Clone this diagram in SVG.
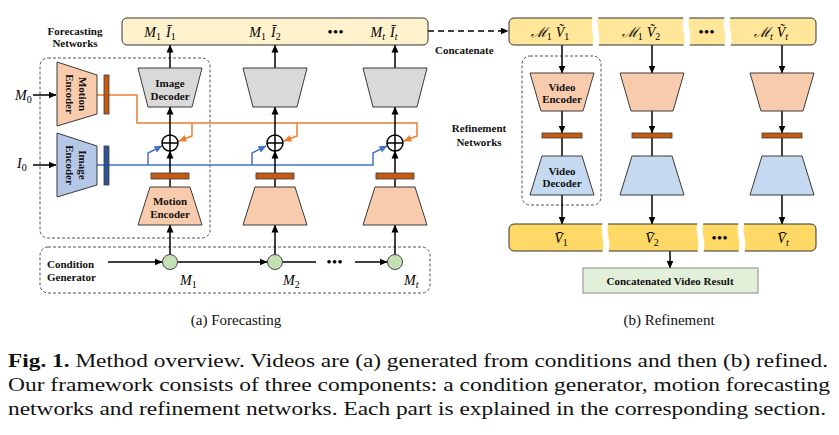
<svg xmlns="http://www.w3.org/2000/svg" width="839" height="435" viewBox="0 0 839 435">
<defs>
<marker id="ab" markerWidth="8" markerHeight="8" refX="7.5" refY="4" orient="auto" markerUnits="userSpaceOnUse"><path d="M0,0.5 L8,4 L0,7.5 z" fill="#000"/></marker>
<marker id="ao" markerWidth="8" markerHeight="8" refX="7.5" refY="4" orient="auto" markerUnits="userSpaceOnUse"><path d="M0,0.5 L8,4 L0,7.5 z" fill="#ED7D31"/></marker>
<marker id="au" markerWidth="8" markerHeight="8" refX="7.5" refY="4" orient="auto" markerUnits="userSpaceOnUse"><path d="M0,0.5 L8,4 L0,7.5 z" fill="#4472C4"/></marker>
</defs>
<style>
.lbl{font-family:"Liberation Serif","DejaVu Serif",serif;font-weight:bold;font-size:11px;fill:#111}
.math{font-family:"Liberation Serif","DejaVu Serif",serif;font-style:italic;font-size:14px;fill:#000}
.sub{font-size:10px;font-style:normal}
.subi{font-size:10px}
.dots{font-family:"Liberation Serif",serif;font-size:13px;font-weight:bold;letter-spacing:1px}
.tr{stroke:#3a3a3a;stroke-width:1}
.dash{fill:none;stroke:#555;stroke-width:1;stroke-dasharray:3,2}
.conn{stroke:#000;stroke-width:1.5;fill:none}
.or{stroke:#ED7D31;stroke-width:1.5;fill:none}
.bl{stroke:#4472C4;stroke-width:1.5;fill:none}
.me{fill:#F8CBAD}
.ie{fill:#B4C7E7}
.gd{fill:#D9D9D9}
.vd{fill:#C5D9F0}
.obar{fill:#C55A11;stroke:#3a3a3a;stroke-width:0.8}
.bbar{fill:#2F5597;stroke:#3a3a3a;stroke-width:0.8}
.gc{fill:#C5E0B4;stroke:#444;stroke-width:1}
.cap{font-family:"Liberation Serif","DejaVu Serif",serif;font-size:19px;fill:#111}
.subcap{font-family:"Liberation Serif","DejaVu Serif",serif;font-size:15px;fill:#111}
.gap{stroke:#fff;stroke-width:6;fill:none}
</style>

<!-- dashed grouping boxes -->
<g id="boxes">
<rect class="dash" x="40" y="58" width="170" height="180" rx="8"/>
<rect class="dash" x="40" y="247" width="390" height="46" rx="8"/>
<rect class="dash" x="522" y="56" width="79" height="149" rx="8"/>
</g>

<!-- connectors -->
<g id="connectors">
<line class="conn" x1="33" y1="95" x2="56" y2="95" marker-end="url(#ab)"/>
<line class="conn" x1="33" y1="165" x2="56" y2="165" marker-end="url(#ab)"/>
<polyline class="or" points="97,95 137,95 137,123 417,123 417,136 404,141" marker-end="url(#ao)"/>
<polyline class="or" points="192,123 192,136 179,141" marker-end="url(#ao)"/>
<polyline class="or" points="297,123 297,136 284,141" marker-end="url(#ao)"/>
<polyline class="bl" points="97,165 373,165 373,153 387,146" marker-end="url(#au)"/>
<polyline class="bl" points="148,165 148,153 162,146" marker-end="url(#au)"/>
<polyline class="bl" points="252,165 252,153 266,146" marker-end="url(#au)"/>
<!-- columns -->
<line class="conn" x1="170" y1="255" x2="170" y2="225" marker-end="url(#ab)"/>
<line class="conn" x1="170" y1="187" x2="170" y2="151" marker-end="url(#ab)"/>
<line class="conn" x1="170" y1="135" x2="170" y2="107" marker-end="url(#ab)"/>
<line class="conn" x1="170" y1="68" x2="170" y2="45" marker-end="url(#ab)"/>
<line class="conn" x1="275" y1="255" x2="275" y2="225" marker-end="url(#ab)"/>
<line class="conn" x1="275" y1="187" x2="275" y2="151" marker-end="url(#ab)"/>
<line class="conn" x1="275" y1="135" x2="275" y2="107" marker-end="url(#ab)"/>
<line class="conn" x1="275" y1="68" x2="275" y2="45" marker-end="url(#ab)"/>
<line class="conn" x1="395" y1="255" x2="395" y2="225" marker-end="url(#ab)"/>
<line class="conn" x1="395" y1="187" x2="395" y2="151" marker-end="url(#ab)"/>
<line class="conn" x1="395" y1="135" x2="395" y2="107" marker-end="url(#ab)"/>
<line class="conn" x1="395" y1="68" x2="395" y2="45" marker-end="url(#ab)"/>
<!-- condition generator chain -->
<line class="conn" x1="108" y1="262" x2="162" y2="262" marker-end="url(#ab)"/>
<line class="conn" x1="178" y1="262" x2="267" y2="262" marker-end="url(#ab)"/>
<line class="conn" x1="283" y1="262" x2="316" y2="262"/>
<line class="conn" x1="355" y1="262" x2="387" y2="262" marker-end="url(#ab)"/>
<!-- concatenate -->
<line class="conn" x1="428" y1="31" x2="508" y2="31" stroke-dasharray="6,4" marker-end="url(#ab)"/>
<!-- refinement columns -->
<line class="conn" x1="562" y1="45" x2="562" y2="73" marker-end="url(#ab)"/>
<line class="conn" x1="562" y1="111" x2="562" y2="133" marker-end="url(#ab)"/>
<line class="conn" x1="562" y1="138" x2="562" y2="156"/>
<line class="conn" x1="562" y1="195" x2="562" y2="224" marker-end="url(#ab)"/>
<line class="conn" x1="652" y1="45" x2="652" y2="73" marker-end="url(#ab)"/>
<line class="conn" x1="652" y1="111" x2="652" y2="133" marker-end="url(#ab)"/>
<line class="conn" x1="652" y1="138" x2="652" y2="156"/>
<line class="conn" x1="652" y1="195" x2="652" y2="224" marker-end="url(#ab)"/>
<line class="conn" x1="782" y1="45" x2="782" y2="73" marker-end="url(#ab)"/>
<line class="conn" x1="782" y1="111" x2="782" y2="133" marker-end="url(#ab)"/>
<line class="conn" x1="782" y1="138" x2="782" y2="156"/>
<line class="conn" x1="782" y1="195" x2="782" y2="224" marker-end="url(#ab)"/>
<line class="conn" x1="670" y1="251" x2="670" y2="268" marker-end="url(#ab)"/>
</g>

<!-- forecasting output bar -->
<g id="forecast-bar">
<rect x="122" y="18" width="306" height="27" rx="5" fill="#FFF2CC" stroke="#333" stroke-width="1"/>
<text class="math" x="160" y="37" text-anchor="middle">M<tspan class="sub" dy="3">1</tspan><tspan dx="5" dy="-3">Ī</tspan><tspan class="sub" dy="3">1</tspan></text>
<text class="math" x="265" y="37" text-anchor="middle">M<tspan class="sub" dy="3">1</tspan><tspan dx="5" dy="-3">Ī</tspan><tspan class="sub" dy="3">2</tspan></text>
<text class="dots" x="336" y="36" text-anchor="middle">•••</text>
<text class="math" x="384" y="37" text-anchor="middle">M<tspan class="subi" dy="3">t</tspan><tspan dx="5" dy="-3">Ī</tspan><tspan class="subi" dy="3">t</tspan></text>
</g>

<g id="labels">
<text class="lbl" x="75" y="35" text-anchor="middle">Forecasting</text>
<text class="lbl" x="75" y="47" text-anchor="middle">Networks</text>
<text class="lbl" x="47" y="268">Condition</text>
<text class="lbl" x="47" y="281">Generator</text>
<text class="lbl" x="435" y="54">Concatenate</text>
<text class="lbl" x="479" y="132" text-anchor="middle">Refinement</text>
<text class="lbl" x="479" y="146" text-anchor="middle">Networks</text>
<text class="math" x="15" y="100">M<tspan class="sub" dy="3">0</tspan></text>
<text class="math" x="17" y="168">I<tspan class="sub" dy="3">0</tspan></text>
<text class="math" x="180" y="285">M<tspan class="sub" dy="3">1</tspan></text>
<text class="math" x="283" y="285">M<tspan class="sub" dy="3">2</tspan></text>
<text class="math" x="404" y="285">M<tspan class="subi" dy="3">t</tspan></text>
<text class="dots" x="335" y="266" text-anchor="middle">•••</text>
</g>

<!-- left encoders -->
<g id="motion-encoder-0">
<polygon class="me tr" points="57,62 97,75 97,114 57,126"/>
<text class="lbl" transform="translate(77,94) rotate(90)" text-anchor="middle"><tspan x="0" y="-1.5">Motion</tspan><tspan x="0" y="11.5">Encoder</tspan></text>
<rect class="obar" x="104" y="75" width="5" height="39"/>
</g>
<g id="image-encoder-0">
<polygon class="ie tr" points="57,133 97,146 97,185 57,197"/>
<text class="lbl" transform="translate(77,165) rotate(90)" text-anchor="middle"><tspan x="0" y="-1.5">Image</tspan><tspan x="0" y="11.5">Encoder</tspan></text>
<rect class="bbar" x="104" y="146" width="5" height="39"/>
</g>

<!-- forecasting columns -->
<g id="image-decoder-1">
<polygon class="gd tr" points="138,68 202,68 192,107 148,107"/>
<text class="lbl" x="170" y="87" text-anchor="middle">Image</text>
<text class="lbl" x="170" y="100" text-anchor="middle">Decoder</text>
</g>
<g id="image-decoder-2"><polygon class="gd tr" points="243,68 307,68 297,107 253,107"/></g>
<g id="image-decoder-3"><polygon class="gd tr" points="363,68 427,68 417,107 373,107"/></g>

<g id="add-1"><circle cx="170" cy="143" r="8" fill="#fff" stroke="#000" stroke-width="1.5"/><path d="M162,143 H178 M170,135 V151" stroke="#000" stroke-width="1.5"/></g>
<g id="add-2"><circle cx="275" cy="143" r="8" fill="#fff" stroke="#000" stroke-width="1.5"/><path d="M267,143 H283 M275,135 V151" stroke="#000" stroke-width="1.5"/></g>
<g id="add-3"><circle cx="395" cy="143" r="8" fill="#fff" stroke="#000" stroke-width="1.5"/><path d="M387,143 H403 M395,135 V151" stroke="#000" stroke-width="1.5"/></g>

<g id="motion-encoder-1">
<rect class="obar" x="151" y="173" width="38" height="6"/>
<polygon class="me tr" points="150,187 190,187 202,225 138,225"/>
<text class="lbl" x="170" y="205" text-anchor="middle">Motion</text>
<text class="lbl" x="170" y="218" text-anchor="middle">Encoder</text>
</g>
<g id="motion-encoder-2">
<rect class="obar" x="256" y="173" width="38" height="6"/>
<polygon class="me tr" points="255,187 295,187 307,225 243,225"/>
</g>
<g id="motion-encoder-3">
<rect class="obar" x="376" y="173" width="38" height="6"/>
<polygon class="me tr" points="375,187 415,187 427,225 363,225"/>
</g>

<g id="cond-1"><circle class="gc" cx="170" cy="262" r="7.5"/></g>
<g id="cond-2"><circle class="gc" cx="275" cy="262" r="7.5"/></g>
<g id="cond-3"><circle class="gc" cx="395" cy="262" r="7.5"/></g>

<!-- refinement top bar -->
<g id="refine-input-bar">
<rect x="509" y="18" width="307" height="27" rx="5" fill="#FFE699" stroke="#333" stroke-width="1"/>
<path class="gap" d="M596,16 C591,24 600,38 595,47"/>
<path class="gap" d="M687,16 C682,24 691,38 686,47"/>
<path class="gap" d="M728,16 C723,24 732,38 727,47"/>
<text class="math" x="550" y="37" text-anchor="middle">ℳ<tspan class="sub" dy="3">1</tspan><tspan dx="4" dy="-3">Ṽ</tspan><tspan class="sub" dy="3">1</tspan></text>
<text class="math" x="641" y="37" text-anchor="middle">ℳ<tspan class="sub" dy="3">1</tspan><tspan dx="4" dy="-3">Ṽ</tspan><tspan class="sub" dy="3">2</tspan></text>
<text class="dots" x="707" y="36" text-anchor="middle">•••</text>
<text class="math" x="771" y="37" text-anchor="middle">ℳ<tspan class="subi" dy="3">t</tspan><tspan dx="4" dy="-3">Ṽ</tspan><tspan class="subi" dy="3">t</tspan></text>
</g>

<g id="video-encoder-1">
<polygon class="me tr" points="530,73 594,73 583,111 541,111"/>
<text class="lbl" x="562" y="91" text-anchor="middle">Video</text>
<text class="lbl" x="562" y="103" text-anchor="middle">Encoder</text>
<rect class="obar" x="542" y="133" width="40" height="5"/>
</g>
<g id="video-encoder-2">
<polygon class="me tr" points="620,73 684,73 673,111 631,111"/>
<rect class="obar" x="632" y="133" width="40" height="5"/>
</g>
<g id="video-encoder-3">
<polygon class="me tr" points="750,73 814,73 803,111 761,111"/>
<rect class="obar" x="762" y="133" width="40" height="5"/>
</g>

<g id="video-decoder-1">
<polygon class="vd tr" points="542,156 582,156 594,195 530,195"/>
<text class="lbl" x="562" y="175" text-anchor="middle">Video</text>
<text class="lbl" x="562" y="187" text-anchor="middle">Decoder</text>
</g>
<g id="video-decoder-2"><polygon class="vd tr" points="632,156 672,156 684,195 620,195"/></g>
<g id="video-decoder-3"><polygon class="vd tr" points="762,156 802,156 814,195 750,195"/></g>

<g id="refine-output-bar">
<rect x="509" y="224" width="307" height="27" rx="5" fill="#FFD966" stroke="#333" stroke-width="1"/>
<path class="gap" d="M606,222 C601,230 610,244 605,253"/>
<path class="gap" d="M701,222 C696,230 705,244 700,253"/>
<path class="gap" d="M742,222 C737,230 746,244 741,253"/>
<text class="math" x="561" y="243" text-anchor="middle">V̄<tspan class="sub" dy="3">1</tspan></text>
<text class="math" x="652" y="243" text-anchor="middle">V̄<tspan class="sub" dy="3">2</tspan></text>
<text class="dots" x="720" y="242" text-anchor="middle">•••</text>
<text class="math" x="783" y="243" text-anchor="middle">V̄<tspan class="subi" dy="3">t</tspan></text>
</g>

<g id="result">
<rect x="583" y="268" width="175" height="25" fill="#E2F0D9" stroke="#888" stroke-width="1"/>
<text class="lbl" x="670" y="285" text-anchor="middle">Concatenated Video Result</text>
</g>

<g id="captions">
<text class="subcap" x="236" y="325" text-anchor="middle">(a) Forecasting</text>
<text class="subcap" x="669" y="325" text-anchor="middle">(b) Refinement</text>
<text class="cap" x="8" y="367" textLength="820" lengthAdjust="spacingAndGlyphs"><tspan font-weight="bold">Fig. 1.</tspan> Method overview. Videos are (a) generated from conditions and then (b) refined.</text>
<text class="cap" x="8" y="391" textLength="822" lengthAdjust="spacingAndGlyphs">Our framework consists of three components: a condition generator, motion forecasting</text>
<text class="cap" x="8" y="415" textLength="818" lengthAdjust="spacingAndGlyphs">networks and refinement networks. Each part is explained in the corresponding section.</text>
</g>
</svg>
